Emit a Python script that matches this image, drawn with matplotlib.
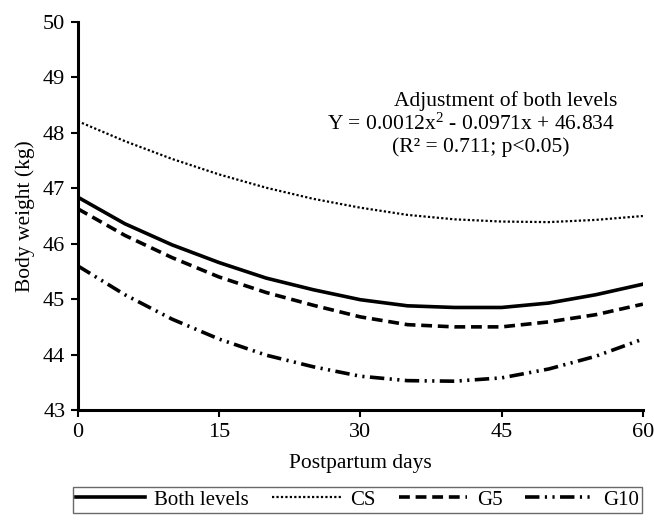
import matplotlib
matplotlib.use('Agg')
import matplotlib.pyplot as plt
import numpy as np

plt.rcParams['font.family'] = ['Liberation Serif', 'DejaVu Serif']
plt.rcParams['mathtext.fontset'] = 'custom'
plt.rcParams['mathtext.rm'] = 'Liberation Serif'
plt.rcParams['mathtext.it'] = 'Liberation Serif:italic'

# valores (dias pós-parto, peso em kg)
days = [0, 5, 10, 15, 20, 25, 30, 35, 40, 45, 50, 55, 60]
both = [46.84, 46.36, 45.98, 45.66, 45.38, 45.17, 44.99, 44.88, 44.85, 44.85, 44.93, 45.08, 45.27]
cs = [48.21, 47.85, 47.53, 47.25, 47.01, 46.81, 46.65, 46.52, 46.44, 46.40, 46.39, 46.43, 46.50]
g5 = [46.63, 46.15, 45.75, 45.40, 45.12, 44.89, 44.68, 44.54, 44.50, 44.50, 44.59, 44.72, 44.91]
g10 = [45.60, 45.08, 44.64, 44.28, 43.99, 43.78, 43.61, 43.53, 43.52, 43.58, 43.74, 43.97, 44.28]

fig = plt.figure(figsize=(6.54, 5.2), dpi=100)
ax = fig.add_axes([0.119, 0.2115, 0.864, 0.7462])

ax.plot(days, both, color='black', lw=2.6, ls='-', label='Both levels')
ax.plot(days, cs, color='black', lw=1.6, ls=(0, (1, 1)), label='CS')
ax.plot(days, g5, color='black', lw=2.6, ls=(0, (3, 1.6)), label='G5')
ax.plot(days, g10, color='black', lw=2.6, ls=(0, (4, 1.5, 0.6, 1.5, 0.6, 1.5)), label='G10')

ax.set_xlim(0, 60)
ax.set_ylim(43, 50)
ax.set_xticks([0, 15, 30, 45, 60])
ax.set_yticks(range(43, 51))
for s in ['top', 'right']:
    ax.spines[s].set_visible(False)
for s in ['left', 'bottom']:
    ax.spines[s].set_linewidth(2.2)
ax.tick_params(direction='out', length=5, width=1.5, labelsize=16, pad=4)
ax.set_xlabel('Postpartum days', fontsize=15.5, labelpad=9)
ax.set_ylabel('Body weight (kg)', fontsize=15.5, labelpad=6)

fig.text(617 / 654, 1 - 101 / 520, 'Adjustment of both levels', fontsize=15.5, ha='right', va='center')
fig.text(615 / 654, 1 - 124 / 520, 'Y = 0.0012x$^{2}$ - 0.0971x + 46.834', fontsize=15.5, ha='right', va='center')
fig.text(481 / 654, 1 - 147 / 520, '(R² = 0.711; p<0.05)', fontsize=15.5, ha='center', va='center')

leg = fig.legend(loc='upper center', bbox_to_anchor=(0.547, 1 - 487 / 520), ncol=4, fontsize=15,
                 frameon=True, fancybox=False, edgecolor='#444444', handlelength=3.3,
                 columnspacing=1.1, handletextpad=0.45, borderpad=0.15, borderaxespad=0)
leg.get_frame().set_linewidth(1.0)

fig.savefig('out.png', dpi=100)
